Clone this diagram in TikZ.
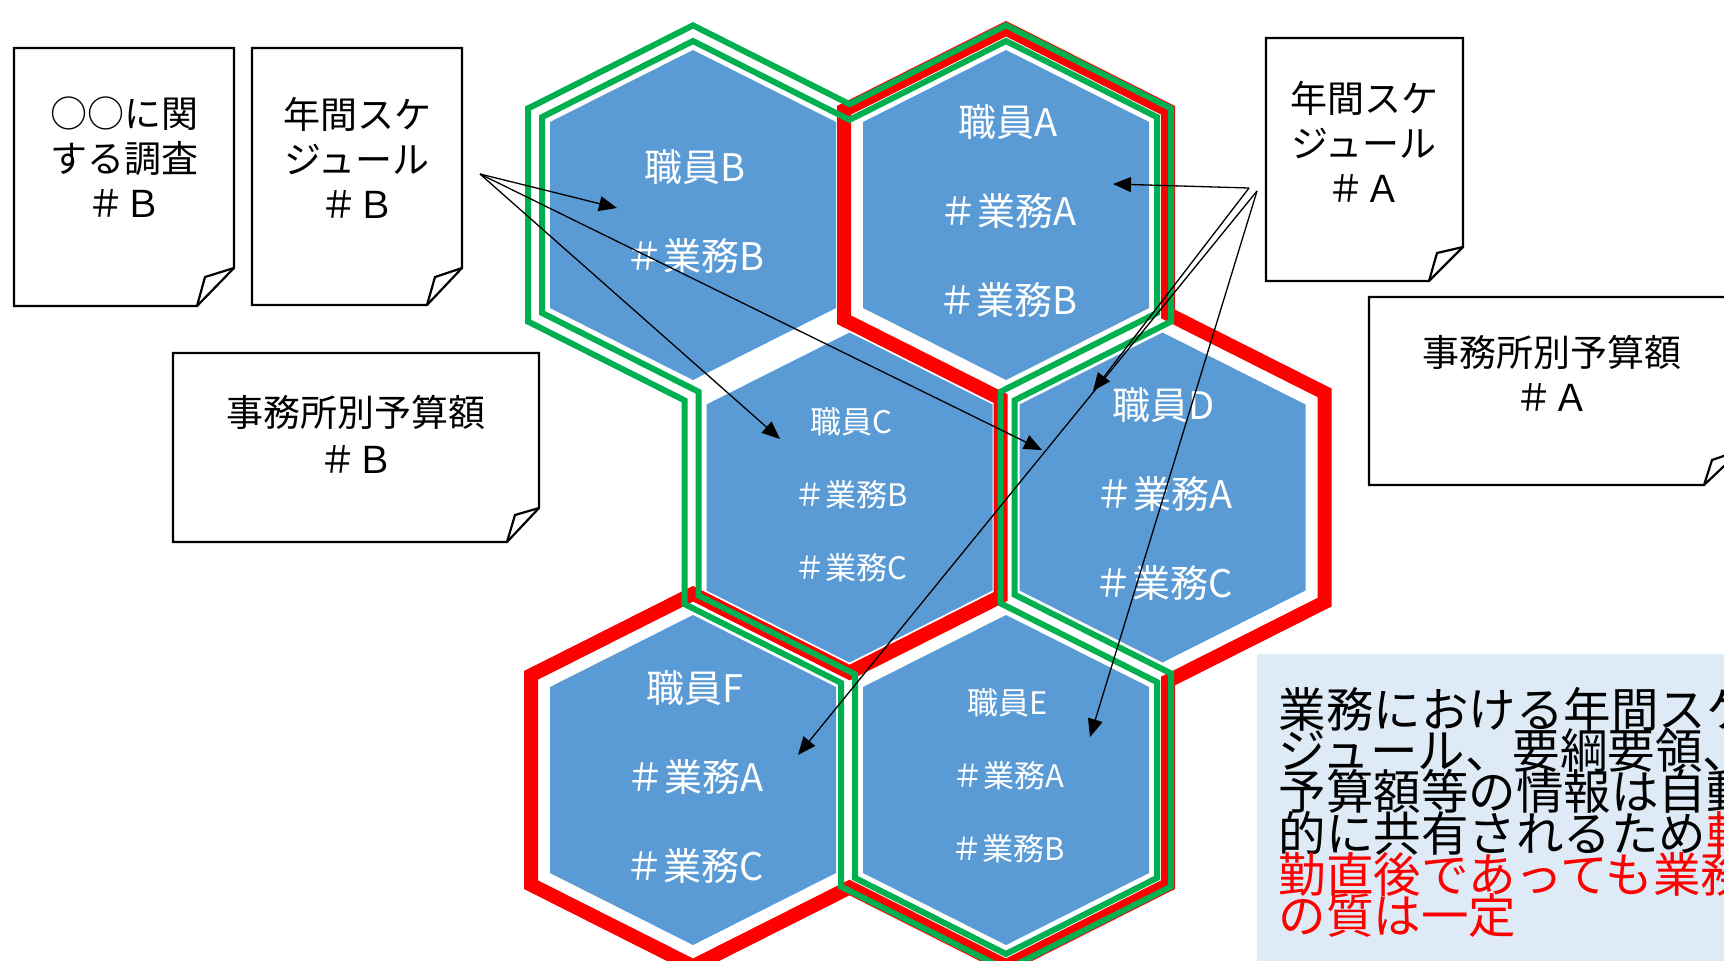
\documentclass[tikz,border=0pt]{standalone}
\usepackage{fontspec}
\setmainfont{Noto Sans CJK JP}
\usetikzlibrary{arrows.meta}
\definecolor{hexblue}{HTML}{5B9BD5}
\definecolor{okgreen}{HTML}{00B050}
\definecolor{okred}{HTML}{FF0000}
\definecolor{boxblue}{HTML}{DEEBF7}
\setlength{\lineskiplimit}{-100pt}
% offset hexagon vertices: #1=cx, #2=cy, #3=offset
\def\hxT#1#2#3{(#1,{#2-165-1.1196*(#3)})}
\def\hxB#1#2#3{(#1,{#2+165+1.1196*(#3)})}
\def\hxUR#1#2#3{({#1+143+(#3)},{#2-93-0.6161*(#3)})}
\def\hxLR#1#2#3{({#1+143+(#3)},{#2+93+0.6161*(#3)})}
\def\hxLL#1#2#3{({#1-143-(#3)},{#2+93+0.6161*(#3)})}
\def\hxUL#1#2#3{({#1-143-(#3)},{#2-93-0.6161*(#3)})}
\def\hexfill#1#2{\fill[hexblue] \hxT{#1}{#2}{0} -- \hxUR{#1}{#2}{0} -- \hxLR{#1}{#2}{0} -- \hxB{#1}{#2}{0} -- \hxLL{#1}{#2}{0} -- \hxUL{#1}{#2}{0} -- cycle;}
\def\greenpath#1{\hxUL{693}{215}{#1} -- \hxT{693}{215}{#1} -- (849.5,{128.8-1.1196*#1}) -- \hxT{1006}{215}{#1} -- \hxUR{1006}{215}{#1} -- \hxLR{1006}{215}{#1} -- ({992.5+#1},{386.8+0.6161*#1}) -- ({992.5+#1},{608.2-0.6161*#1}) -- \hxUR{1006}{780}{#1} -- \hxLR{1006}{780}{#1} -- \hxB{1006}{780}{#1} -- \hxLL{1006}{780}{#1} -- ({863-#1},{669.3+0.6161*#1}) -- \hxLL{849.5}{497.5}{#1} -- ({706.5-#1},{386.8+0.6161*#1}) -- \hxLL{693}{215}{#1} -- cycle}
\def\redpath#1{\hxUL{1006}{215}{#1} -- \hxT{1006}{215}{#1} -- \hxUR{1006}{215}{#1} -- ({1149+#1},{325.7-0.6161*#1}) -- \hxUR{1162.5}{497.5}{#1} -- \hxLR{1162.5}{497.5}{#1} -- ({1149+#1},{669.3+0.6161*#1}) -- \hxLR{1006}{780}{#1} -- \hxB{1006}{780}{#1} -- (849.5,{866.2+1.1196*#1}) -- \hxB{693}{780}{#1} -- \hxLL{693}{780}{#1} -- \hxUL{693}{780}{#1} -- \hxT{693}{780}{#1} -- (849.5,{693.8-1.1196*#1}) -- ({1019.5-#1},{608.2-0.6161*#1}) -- ({1019.5-#1},{386.8+0.6161*#1}) -- \hxLL{1006}{215}{#1} -- cycle}
\begin{document}
\begin{tikzpicture}[x=0.5pt,y=-0.5pt,
  notebox/.style={draw=black,line width=1.1pt,fill=white,line join=miter},
  notefold/.style={draw=black,line width=1.1pt,line join=miter},
  notetxt/.style={inner sep=0pt,align=center,font=\fontsize{18.5pt}{22.5pt}\selectfont},
  hexbig/.style={inner sep=0pt,align=center,text=white,font=\fontsize{19pt}{44.5pt}\selectfont},
  hexsmall/.style={inner sep=0pt,align=center,text=white,font=\fontsize{15.5pt}{36.5pt}\selectfont},
  msgtxt/.style={inner sep=0pt,align=left,font=\fontsize{23.75pt}{20.65pt}\selectfont},
  arr/.style={line width=0.65pt,-{Triangle[length=9pt,width=7.5pt]}},
  redline/.style={draw=okred,line width=7pt,line join=miter},
  greenline/.style={draw=okgreen,line width=3pt,line join=miter}]
\useasboundingbox (0,0) rectangle (1724,960);
\clip (0,0) rectangle (1724,960);
% notes
\draw[notebox] (14,48) -- (234,48) -- (234,268) -- (197,306) -- (14,306) -- cycle;
\draw[notefold] (197,306) -- (205,277) -- (234,268);
\draw[notebox] (252,48) -- (462,48) -- (462,268) -- (427,305) -- (252,305) -- cycle;
\draw[notefold] (427,305) -- (435,277) -- (462,268);
\draw[notebox] (173,353) -- (539,353) -- (539,508) -- (507,542) -- (173,542) -- cycle;
\draw[notefold] (507,542) -- (515,515) -- (539,508);
\draw[notebox] (1266,38) -- (1463,38) -- (1463,247) -- (1429,281) -- (1266,281) -- cycle;
\draw[notefold] (1429,281) -- (1437,253) -- (1463,247);
\draw[notebox] (1369,297) -- (1741,297) -- (1741,450) -- (1704,485) -- (1369,485) -- cycle;
\draw[notefold] (1704,485) -- (1712,460) -- (1741,450);
\node[notetxt] (n1) at (124,157.5) {○○に関\\する調査\\＃Ｂ};
\node[notetxt] (n2) at (357,157.5) {年間スケ\\ジュール\\＃Ｂ};
\node[notetxt,font=\fontsize{18.5pt}{23.5pt}\selectfont] (n3) at (356,434) {事務所別予算額\\＃Ｂ};
\node[notetxt] (n4) at (1364,142) {年間スケ\\ジュール\\＃Ａ};
\node[notetxt] (n5) at (1552,373.5) {事務所別予算額\\＃Ａ};
% hexagons
\hexfill{693}{215}
\hexfill{1006}{215}
\hexfill{849.5}{497.5}
\hexfill{1162.5}{497.5}
\hexfill{693}{780}
\hexfill{1006}{780}
% outlines
\draw[redline] \redpath{19};
\draw[greenline] \greenpath{8};
\draw[greenline] \greenpath{22};
% hexagon texts
\node[hexbig] (hB) at (695,212) {職員B\\＃業務B};
\node[hexbig] (hA) at (1008,211) {職員A\\＃業務A\\＃業務B};
\node[hexsmall] (hC) at (851,494.6) {職員C\\＃業務B\\＃業務C};
\node[hexbig] (hD) at (1164,494) {職員D\\＃業務A\\＃業務C};
\node[hexbig] (hF) at (695,777) {職員F\\＃業務A\\＃業務C};
\node[hexsmall] (hE) at (1008,776) {職員E\\＃業務A\\＃業務B};
% text box
\fill[boxblue] (1257,654) rectangle (1730,965);
\node[msgtxt,anchor=north west] (msg) at (1278.3,686.7)
 {業務における年間スケ\\ジュール、要綱要領、\\予算額等の情報は自動\\的に共有されるため{\color{okred}転}\\{\color{okred}勤直後であっても業務}\\{\color{okred}の質は一定}};
% arrows
\coordinate (oB) at (480,174);
\coordinate (tB) at (617,208);
\coordinate (tC) at (780,439);
\coordinate (tD1) at (1042,450);
\coordinate (oA1) at (1249,188);
\coordinate (oA2) at (1257,191);
\coordinate (tA) at (1113,184);
\coordinate (tD2) at (1093,391);
\coordinate (tF) at (798,755);
\coordinate (tE) at (1090,737);
\draw[arr] (oB) -- (tB);
\draw[arr] (oB) -- (tC);
\draw[arr] (oB) -- (tD1);
\draw[arr] (oA1) -- (tA);
\draw[arr] (oA1) -- (tD2);
\draw[arr] (oA2) -- (tF);
\draw[arr] (oA2) -- (tE);
\end{tikzpicture}
\end{document}
